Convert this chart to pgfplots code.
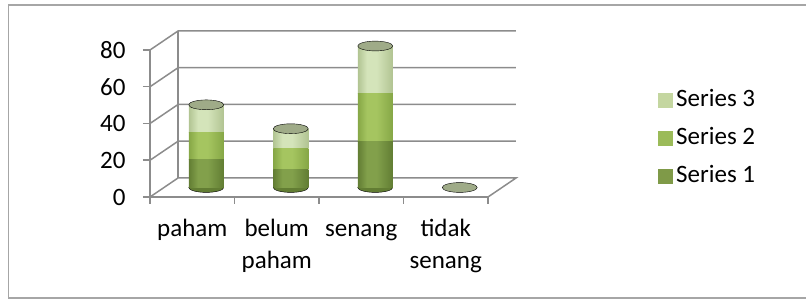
\documentclass[border=0pt]{standalone}
\usepackage{pgfplots}
\pgfplotsset{compat=1.18}
\usepackage{fontspec}
\setmainfont{Carlito}
\definecolor{sA}{HTML}{7F9A48}
\definecolor{sAd}{HTML}{627D33}
\definecolor{sAl}{HTML}{82A04B}
\definecolor{sB}{HTML}{9BBB59}
\definecolor{sBd}{HTML}{86A746}
\definecolor{sBl}{HTML}{A5C560}
\definecolor{sC}{HTML}{C4D6A0}
\definecolor{sCd}{HTML}{B1C492}
\definecolor{sCl}{HTML}{D4E4BA}
\definecolor{topc}{HTML}{9FAB88}
\definecolor{gridc}{HTML}{8C8C8C}
\pgfdeclarehorizontalshading{cylA}{100bp}{color(0bp)=(sAd); color(25bp)=(sAd); color(38bp)=(sAl); color(52bp)=(sAl); color(75bp)=(sAd); color(100bp)=(sAd)}
\pgfdeclarehorizontalshading{cylB}{100bp}{color(0bp)=(sBd); color(25bp)=(sBd); color(38bp)=(sBl); color(52bp)=(sBl); color(75bp)=(sBd); color(100bp)=(sBd)}
\pgfdeclarehorizontalshading{cylC}{100bp}{color(0bp)=(sCd); color(25bp)=(sCd); color(38bp)=(sCl); color(52bp)=(sCl); color(75bp)=(sCd); color(100bp)=(sCd)}
\pgfplotsset{
  common/.style={
    width=338pt, height=147pt, scale only axis,
    xmin=-0.5, xmax=3.5, ymin=0, ymax=80, clip=false,
  },
  hiddenax/.style={common, axis lines=none, xtick=\empty, ytick=\empty,
    at={(front.south west)}, anchor=south west, xshift=14pt, yshift=9.5pt},
  cylax/.style={hiddenax, ybar stacked, bar width=35pt},
  s1/.style={draw=none, fill=sA, shade, shading=cylA},
  s2/.style={draw=none, fill=sB, shade, shading=cylB},
  s3/.style={draw=none, fill=sC, shade, shading=cylC},
}
\begin{document}
\fontsize{25}{30}\selectfont
\begin{tikzpicture}[font=\fontsize{25}{30}\selectfont]
% front frame and walls
\begin{axis}[common, name=front,
  anchor=south west,
  axis x line*=bottom, axis y line*=left,
  axis line style={gridc, line width=1.5pt},
  xtick={-0.5,0.5,1.5,2.5,3.5}, xticklabels={},
  extra x ticks={0,1,2,3},
  extra x tick labels={\strut paham, \strut belum\\paham, \strut senang, \strut tidak\\senang},
  extra x tick style={major tick length=0pt, tick style={draw=none}},
  xticklabel style={align=center, anchor=north, yshift=-9pt, font=\fontsize{25}{32}\selectfont},
  ytick={0,20,40,60,80},
  tick style={gridc, line width=1.5pt},
  tick align=outside, major tick length=7pt,
  yticklabel style={xshift=-9pt},
  /pgf/number format/assume math mode=true,
]
\draw[gridc, line width=1.5pt] (axis cs:-0.5,0) -- ++(28pt,19pt) -- ([xshift=28pt,yshift=19pt]axis cs:3.5,0) -- (axis cs:3.5,0);
\pgfplotsinvokeforeach{20,40,60,80}{
  \draw[gridc, line width=1.5pt] (axis cs:-0.5,#1) -- ++(28pt,19pt) -- ([xshift=28pt,yshift=19pt]axis cs:3.5,#1);
}
\draw[gridc, line width=1.5pt] ([xshift=28pt,yshift=19pt]axis cs:-0.5,0) -- ([xshift=28pt,yshift=19pt]axis cs:-0.5,80);
\end{axis}
% bottom ellipses
\begin{axis}[hiddenax]
\addplot[only marks, mark=*, mark size=17.5pt, mark options={yscale=0.28, draw=none, fill=sAd}] coordinates {(0,0) (1,0) (2,0)};
\end{axis}
% stacked cylinders, one axis per category so that each bar is shaded on its own
\begin{axis}[cylax]
\addplot[s1] coordinates {(0,15)};
\addplot[s2] coordinates {(0,15)};
\addplot[s3] coordinates {(0,15)};
\end{axis}
\begin{axis}[cylax]
\addplot[s1] coordinates {(1,10)};
\addplot[s2] coordinates {(1,11)};
\addplot[s3] coordinates {(1,11)};
\end{axis}
\begin{axis}[cylax]
\addplot[s1] coordinates {(2,25)};
\addplot[s2] coordinates {(2,26)};
\addplot[s3] coordinates {(2,26)};
\end{axis}
% top ellipses (tidak senang = 0 shows only its ellipse)
\begin{axis}[hiddenax,
  legend style={draw=none, fill=none, at={(1.46,0.69)}, anchor=north west,
    row sep=10pt, font=\fontsize{25}{30}\selectfont, inner sep=0pt,
    nodes={inner sep=3.5pt}},
  legend cell align=left,
  legend image code/.code={\fill[#1, draw=none] (0pt,-7.5pt) rectangle (15pt,7.5pt);},
]
\addplot[forget plot, only marks, mark=*, mark size=17.5pt, mark options={yscale=0.28, draw=none, fill=topc}] coordinates {(0,45) (1,32) (2,77) (3,0)};
\addlegendimage{fill=sC, draw=none}
\addlegendentry{Series 3}
\addlegendimage{fill=sB, draw=none}
\addlegendentry{Series 2}
\addlegendimage{fill=sA, draw=none}
\addlegendentry{Series 1}
\end{axis}
\draw[color=black!35, line width=1.2pt] (front.south west) ++(-141.5pt,-101pt) rectangle ++(800pt,293pt);
\pgfresetboundingbox
\path[use as bounding box] (front.south west) ++(-150pt,-102pt) rectangle ++(806pt,299pt);
\end{tikzpicture}
\end{document}
